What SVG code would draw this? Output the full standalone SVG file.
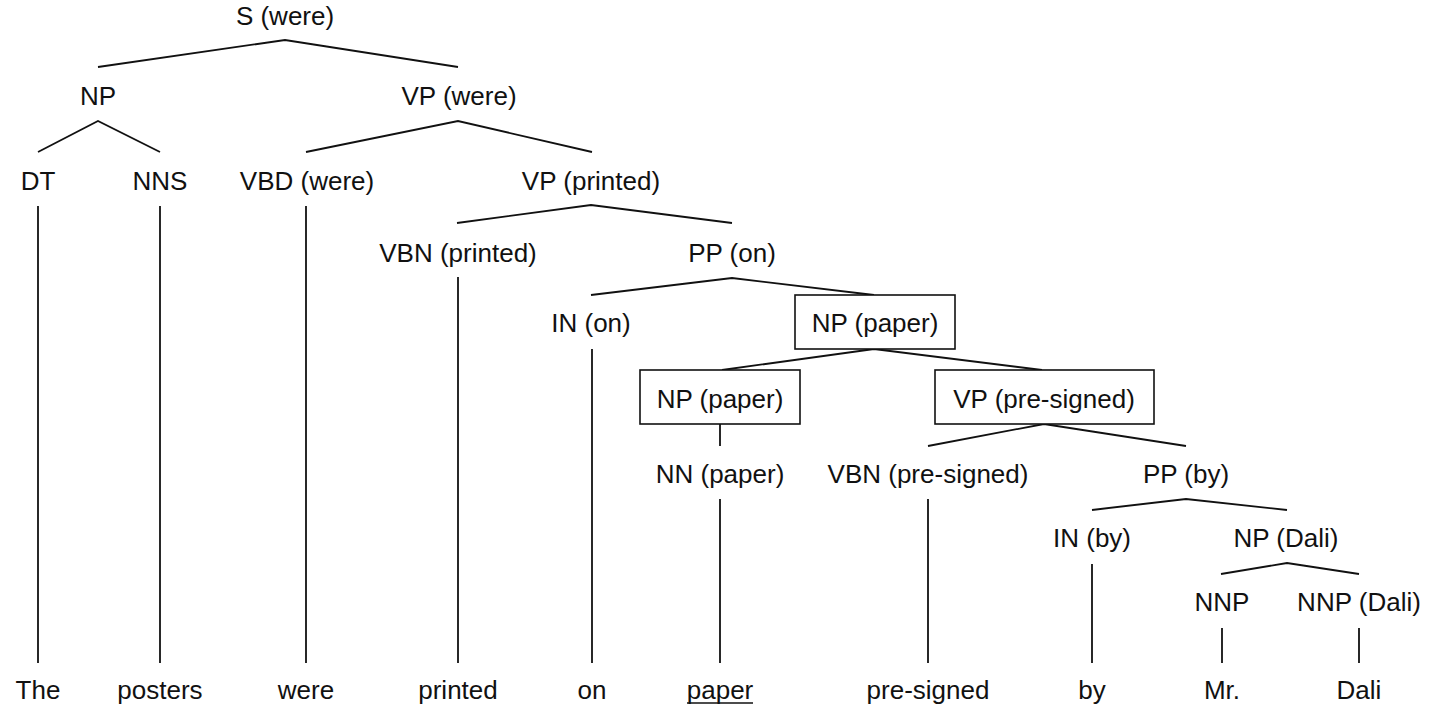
<svg xmlns="http://www.w3.org/2000/svg" width="1443" height="710" viewBox="0 0 1443 710">
<style>
text{font-family:"Liberation Sans",Arial,Helvetica,sans-serif;font-size:26px;fill:#111;text-anchor:middle}
.e{stroke:#111;stroke-width:1.8;fill:none}
.b{stroke:#111;stroke-width:1.6;fill:#fff}
</style>
<rect width="1443" height="710" fill="#fff"/>
<g id="connectors" class="e">
<polyline points="98,67 285,40 458,67"/>
<polyline points="38,152 98,121 160,152"/>
<polyline points="306,152 458,121 592,152"/>
<line x1="38" y1="206" x2="38" y2="663"/>
<line x1="160" y1="206" x2="160" y2="663"/>
<line x1="306" y1="206" x2="306" y2="663"/>
<polyline points="457,223 591,205 732,223"/>
<line x1="458" y1="277" x2="458" y2="663"/>
<polyline points="591,295 732,278 874,295"/>
<line x1="592" y1="349" x2="592" y2="663"/>
<polyline points="722,370 874,349 1042,370"/>
<line x1="720" y1="424" x2="720" y2="446"/>
<polyline points="928,446 1044,424 1186,446"/>
<line x1="720" y1="499" x2="720" y2="663"/>
<line x1="928" y1="499" x2="928" y2="663"/>
<polyline points="1092,510 1186,499 1287,510"/>
<line x1="1092" y1="564" x2="1092" y2="663"/>
<polyline points="1221,574 1287,563 1359,574"/>
<line x1="1222" y1="628" x2="1222" y2="663"/>
<line x1="1359" y1="628" x2="1359" y2="663"/>
</g>
<g id="n-S"><text x="285" y="25">S (were)</text></g>
<g id="n-NP1"><text x="98" y="105">NP</text></g>
<g id="n-VP-were"><text x="459" y="105">VP (were)</text></g>
<g id="n-DT"><text x="38" y="190">DT</text></g>
<g id="n-NNS"><text x="160" y="190">NNS</text></g>
<g id="n-VBD"><text x="307" y="190">VBD (were)</text></g>
<g id="n-VP-printed"><text x="591" y="190">VP (printed)</text></g>
<g id="n-VBN-printed"><text x="458" y="262">VBN (printed)</text></g>
<g id="n-PP-on"><text x="732" y="262">PP (on)</text></g>
<g id="n-IN-on"><text x="591" y="332">IN (on)</text></g>
<g id="n-NP-paper-outer"><rect class="b" x="795" y="295" width="160" height="54"/><text x="875" y="332">NP (paper)</text></g>
<g id="n-NP-paper-inner"><rect class="b" x="640" y="370" width="160" height="54"/><text x="720" y="408">NP (paper)</text></g>
<g id="n-VP-presigned"><rect class="b" x="935" y="370" width="219" height="54"/><text x="1044" y="408">VP (pre-signed)</text></g>
<g id="n-NN-paper"><text x="720" y="483">NN (paper)</text></g>
<g id="n-VBN-presigned"><text x="928" y="483">VBN (pre-signed)</text></g>
<g id="n-PP-by"><text x="1186" y="483">PP (by)</text></g>
<g id="n-IN-by"><text x="1092" y="547">IN (by)</text></g>
<g id="n-NP-Dali"><text x="1286" y="547">NP (Dali)</text></g>
<g id="n-NNP1"><text x="1222" y="611">NNP</text></g>
<g id="n-NNP-Dali"><text x="1359" y="611">NNP (Dali)</text></g>
<g id="w-The"><text x="38" y="699">The</text></g>
<g id="w-posters"><text x="160" y="699">posters</text></g>
<g id="w-were"><text x="306" y="699">were</text></g>
<g id="w-printed"><text x="458" y="699">printed</text></g>
<g id="w-on"><text x="592" y="699">on</text></g>
<g id="w-paper"><text x="720" y="699">paper</text><line x1="687" y1="703" x2="753" y2="703" stroke="#111" stroke-width="1.6"/></g>
<g id="w-presigned"><text x="928" y="699">pre-signed</text></g>
<g id="w-by"><text x="1092" y="699">by</text></g>
<g id="w-Mr"><text x="1222" y="699">Mr.</text></g>
<g id="w-Dali"><text x="1359" y="699">Dali</text></g>
</svg>
